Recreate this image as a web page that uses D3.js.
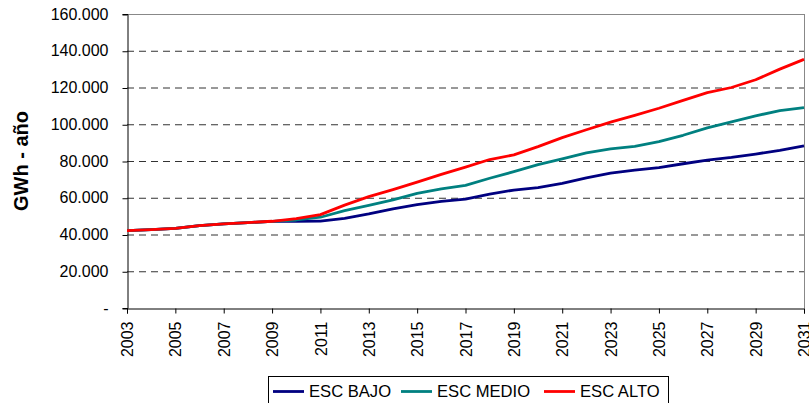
<!DOCTYPE html>
<html><head><meta charset="utf-8">
<script src="https://cdn.jsdelivr.net/npm/d3@7"></script>
<style>body{margin:0;background:#fff}svg{display:block}text{font-family:"Liberation Sans",Arial,sans-serif}</style>
</head><body><svg id="c" width="809" height="403"></svg>
<script>
const years = d3.range(2003, 2032);
const escBajo = [42.1,42.6,43.3,44.8,45.8,46.5,47.1,47.2,47.3,48.8,51.2,54.0,56.3,58.0,59.3,62.0,64.2,65.5,67.8,70.8,73.4,75.0,76.4,78.5,80.5,82.0,83.8,85.8,88.2];
const escMedio = [42.1,42.6,43.3,44.8,45.8,46.5,47.1,47.9,49.4,53.0,55.8,58.8,62.4,64.8,66.7,70.6,74.2,78.0,81.2,84.4,86.6,88.0,90.5,94.0,98.0,101.3,104.6,107.4,109.0];
const escAlto = [42.1,42.6,43.3,44.8,45.8,46.5,47.2,48.6,50.8,56.0,60.6,64.4,68.5,72.7,76.7,80.8,83.3,87.8,92.7,97.0,101.2,104.8,108.7,113.0,117.2,120.0,124.2,130.0,135.3];
const yTicks = [0,20000,40000,60000,80000,100000,120000,140000,160000];
const xTicks = d3.range(2003, 2032, 2);
const seriesNames = ["ESC BAJO","ESC MEDIO","ESC ALTO"];
const seriesColors = ["#000080","#008080","#ff0000"];
const seriesData = [escBajo, escMedio, escAlto];

const svg = d3.select("#c");
const L = 127, R = 804, T = 14, B = 308;
const x = d3.scaleLinear().domain([2003, 2031]).range([L, R]);
const y = d3.scaleLinear().domain([0, 160000]).range([B, T]);
const fmtY = v => v === 0 ? "-" : (v/1000).toFixed(0) + ".000";

// gridlines
svg.append("g").selectAll("line").data(yTicks.filter(v => v > 0 && v < 160000)).join("line")
  .attr("x1", L).attr("x2", R).attr("y1", d => y(d)+0.5).attr("y2", d => y(d)+0.5)
  .attr("stroke", "#333").attr("stroke-width", 1).attr("stroke-dasharray", "7,5");
// top and right border
svg.append("line").attr("x1", L).attr("x2", R+0.5).attr("y1", T+0.5).attr("y2", T+0.5).attr("stroke", "#888");
svg.append("line").attr("x1", R+0.5).attr("x2", R+0.5).attr("y1", T).attr("y2", B).attr("stroke", "#888");

// axes
const yAxis = d3.axisLeft(y).tickValues(yTicks).tickFormat(fmtY).tickSize(5).tickPadding(14);
const gy = svg.append("g").attr("transform", `translate(${L+0.5},0)`).call(yAxis);
gy.select(".domain").attr("stroke", "#000");
gy.selectAll(".tick line").attr("stroke", "#000").attr("transform", "translate(0,0.5)");
gy.selectAll("text").attr("font-size", 16).attr("fill", "#000");

const xAxis = d3.axisBottom(x).tickValues(xTicks).tickFormat(d3.format("d")).tickSize(5).tickPadding(0);
const gx = svg.append("g").attr("transform", `translate(0,${B+0.5})`).call(xAxis);
gx.select(".domain").attr("stroke", "#000");
gx.selectAll(".tick line").attr("stroke", "#000");
gx.selectAll("text").attr("font-size", 16).attr("fill", "#000")
  .attr("transform", "rotate(-90)").attr("text-anchor", "end")
  .attr("x", -13).attr("y", 0).attr("dy", "0.35em");

// lines
const line = d3.line().x((d, i) => x(years[i])).y(d => y(d * 1000));
svg.append("g").selectAll("path").data(seriesData).join("path")
  .attr("d", d => line(d)).attr("fill", "none")
  .attr("stroke", (d, i) => seriesColors[i]).attr("stroke-width", 2.8)
  .attr("stroke-linejoin", "round");

// y title
svg.append("text").attr("transform", "translate(28,161) rotate(-90)")
  .attr("text-anchor", "middle").attr("font-size", 20).attr("font-weight", "bold").text("GWh - año");

// legend
const lg = svg.append("g");
lg.append("rect").attr("x", 268.5).attr("y", 376.5).attr("width", 400).attr("height", 40)
  .attr("fill", "#fff").attr("stroke", "#000");
const lx = [273, 401, 544];
seriesNames.forEach((n, i) => {
  lg.append("line").attr("x1", lx[i]).attr("x2", lx[i]+31).attr("y1", 391.5).attr("y2", 391.5)
    .attr("stroke", seriesColors[i]).attr("stroke-width", 2.8);
  lg.append("text").attr("x", lx[i]+36).attr("y", 397).attr("font-size", 16.6).text(n);
});
</script></body></html>
